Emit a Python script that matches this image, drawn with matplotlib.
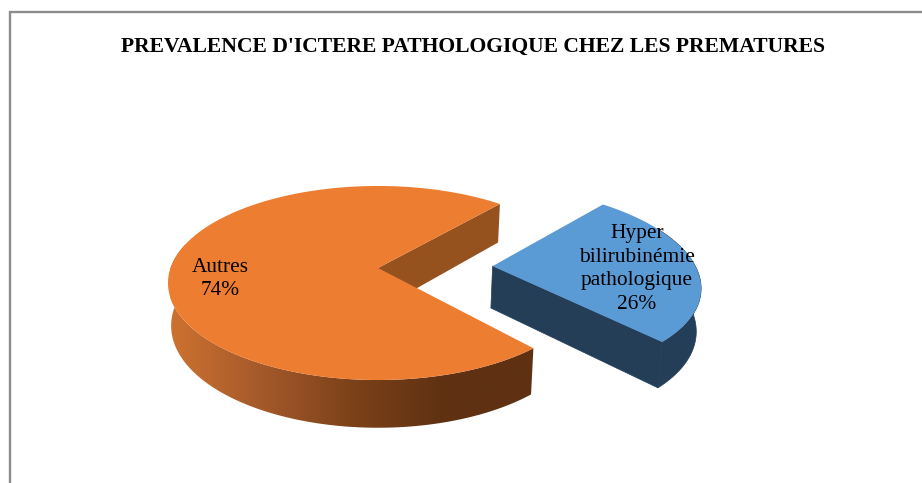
import numpy as np
import matplotlib
matplotlib.use("Agg")
import matplotlib.pyplot as plt
from matplotlib.colors import LinearSegmentedColormap
from matplotlib.patches import Polygon

title = "PREVALENCE D'ICTERE PATHOLOGIQUE CHEZ LES PREMATURES"
labels = ["Hyper\nbilirubinémie\npathologique\n26%", "Autres\n74%"]
values = [26.4, 73.6]
start_angle = 42

# pie projection, all in image pixels
cx, cy = 378, 268
a, b, k = 207.5, 94.7, 0.1546
depth, depth_k, bottom_scale = 42, 0.12, 0.985
explode = (0.554, -0.02)
blue_r = 0.98


def top_point(theta, r=1.0, off=(0, 0)):
    u = off[0] + r * np.sin(theta)
    v = off[1] - r * np.cos(theta)
    w = 1 - k * v
    return cx + a * u / w, cy + b * v / w, v


def bottom_point(theta, r=1.0, off=(0, 0)):
    x, y, v = top_point(theta, r, off)
    return cx + (x - cx) * bottom_scale, y + depth / (1 - depth_k * v)


def rim(t0, t1, off, r=1.0, func=top_point):
    th = np.radians(np.linspace(t0, t1, 200))
    return [func(t, r, off)[:2] for t in th]


def wall(t0, t1, off, r=1.0):
    return rim(t0, t1, off, r) + rim(t0, t1, off, r, bottom_point)[::-1]


def edge(t, off, r=1.0):
    th = np.radians(t)
    return [top_point(th, r, off)[:2], bottom_point(th, r, off),
            bottom_point(th, 0.0, off), top_point(th, 0.0, off)[:2]]


fig = plt.figure(figsize=(9.22, 4.83), dpi=100)
ax = fig.add_axes([0, 0, 1, 1])
ax.axis("off")

# frame
ax.plot([10, 10, 922], [483, 12, 12], color="#8c8c8c", lw=1.7, solid_joinstyle="miter")

blue_end = start_angle + values[0] / sum(values) * 360
orange_start = blue_end + 1.5
orange_end = start_angle + 360 - 1

# orange slice
ax.add_patch(Polygon(edge(orange_end, (0, 0)), fc="#95511e", ec="none"))
cmap = LinearSegmentedColormap.from_list(
    "side", ["#cd7230", "#a4592a", "#7c4119", "#5f3112", "#5f3112"])
wall_poly = Polygon(wall(orange_start, 285, (0, 0)), fc="none", ec="none")
ax.add_patch(wall_poly)
img = ax.imshow(np.linspace(0, 1, 256).reshape(1, -1), extent=(170, 535, 483, 0),
                cmap=cmap, aspect="auto", zorder=1)
img.set_clip_path(wall_poly)
ax.set_xlim(0, 922)
ax.set_ylim(483, 0)
top_orange = rim(orange_start, orange_end, (0, 0)) + [(cx, cy)]
ax.add_patch(Polygon(top_orange, fc="#ed7d31", ec="none", zorder=2))

# exploded blue slice
dark_blue = "#243e57"
ax.add_patch(Polygon(wall(65, blue_end, explode, blue_r), fc=dark_blue, ec=dark_blue, lw=0.5, zorder=2))
ax.add_patch(Polygon(edge(blue_end, explode, blue_r), fc=dark_blue, ec=dark_blue, lw=0.5, zorder=2))
top_blue = rim(start_angle, blue_end, explode, blue_r) + [top_point(0, 0.0, explode)[:2]]
ax.add_patch(Polygon(top_blue, fc="#5b9bd5", ec="none", zorder=3))

ax.text(472.5, 47, title, family="Liberation Serif", weight="bold", fontsize=15.6,
        ha="center", va="center", color="black", zorder=5)
ax.text(637, 269, labels[0], family="Liberation Serif", fontsize=15.4, ha="center",
        va="center", linespacing=1.35, color="black", zorder=5)
ax.text(220, 279, labels[1], family="Liberation Serif", fontsize=15.4, ha="center",
        va="center", linespacing=1.35, color="black", zorder=5)

fig.savefig("out.png", dpi=100)
